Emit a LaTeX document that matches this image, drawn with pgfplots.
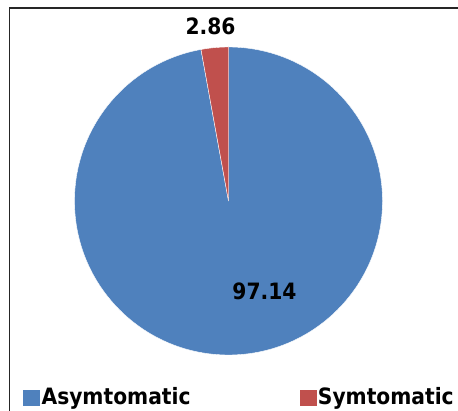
\documentclass[border=0pt]{standalone}
\usepackage{pgfplots}
\pgfplotsset{compat=1.18}
\usepackage{pgfplotstable}
\usepackage{fontspec}
\setmainfont{DejaVu Sans Condensed}
\definecolor{pieblue}{HTML}{4F81BD}
\definecolor{piered}{HTML}{C0504D}
\pgfplotstableread{
label value
Asymtomatic 97.14
Symtomatic 2.86
}\piedata
\begin{document}
\begin{tikzpicture}
\pgfplotstablegetelem{0}{value}\of\piedata
\let\valA\pgfplotsretval
\pgfplotstablegetelem{1}{value}\of\piedata
\let\valB\pgfplotsretval
\pgfmathsetmacro\angA{90-3.6*\valA}
\pgfmathsetmacro\angB{\angA-3.6*\valB}
\begin{axis}[
  scale only axis, width=458bp, height=411bp,
  xmin=0, xmax=458, ymin=0, ymax=411,
  hide axis, clip=false,
  legend columns=2,
  legend style={at={(axis cs:23,3)}, anchor=south west, draw=none, fill=none,
    inner sep=0pt, font=\fontsize{22.5bp}{26bp}\selectfont\bfseries,
    /tikz/every even column/.append style={column sep=107bp}},
  legend cell align=left,
  legend image code/.code={\fill[#1] (0bp,-9bp) rectangle (16bp,6bp);},
]
\addlegendimage{pieblue}
\addlegendentry{Asymtomatic}
\addlegendimage{piered}
\addlegendentry{Symtomatic}
\fill[pieblue, draw=white, line width=0.4bp] (axis cs:228.5,210) -- ++(90:154bp) arc[start angle=90, end angle=\angA, radius=154bp] -- cycle;
\fill[piered, draw=white, line width=0.4bp] (axis cs:228.5,210) -- ++(\angA:154bp) arc[start angle=\angA, end angle=\angB, radius=154bp] -- cycle;
\node[font=\fontsize{22.5bp}{26bp}\selectfont\bfseries] at (axis cs:210.5,384.5) {\valB};
\node[font=\fontsize{22.5bp}{26bp}\selectfont\bfseries] at (axis cs:264.5,120) {\valA};
\draw[line width=1.5bp, black!85] (axis cs:9.5,0) -- (axis cs:9.5,403) -- (axis cs:458,403);
\end{axis}
\pgfresetboundingbox
\useasboundingbox (0,0) rectangle (458bp,411bp);
\end{tikzpicture}
\end{document}
